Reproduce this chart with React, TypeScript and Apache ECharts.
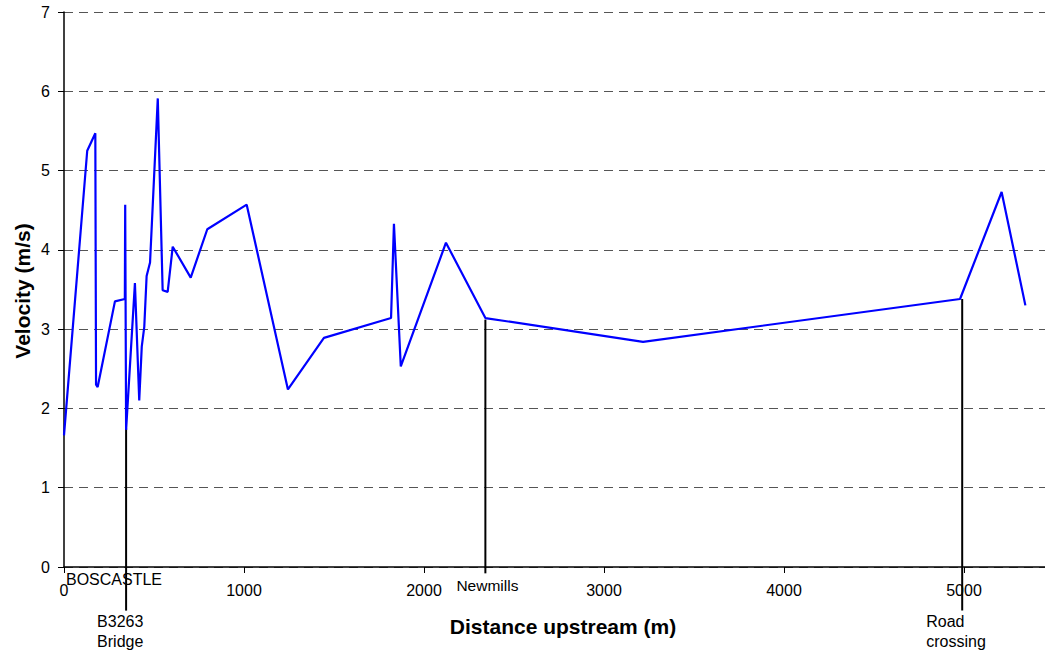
import React, { useEffect, useRef } from "react";
import * as echarts from "echarts";

const distances = [0, 129, 174, 178, 187, 283, 338, 340, 345, 394, 418, 432, 446, 459, 478, 521, 548, 576, 604, 704, 796, 1015, 1244, 1444, 1817, 1833, 1871, 2122, 2341, 3217, 4978, 5209, 5341];
const velocities = [1.66, 5.25, 5.47, 2.3, 2.27, 3.35, 3.38, 4.57, 1.73, 3.58, 2.1, 2.78, 3.03, 3.67, 3.84, 5.91, 3.49, 3.47, 4.04, 3.65, 4.26, 4.57, 2.24, 2.89, 3.14, 4.33, 2.53, 4.09, 3.14, 2.84, 3.38, 4.73, 3.3];

const markerNames = ["B3263\nBridge", "Newmills", "Road\ncrossing"];
const markerX = [345, 2341, 4990];
const markerTop = [1.75, 3.12, 3.38];
const markerBottom = [-0.55, -0.08, -0.55];

const xTicks = { min: 0, max: 6000, interval: 1000 };
const lastXLabel = 5000;
const yTicks = { min: 0, max: 7, interval: 1 };

const FONT = "'Liberation Sans', Arial, sans-serif";

export default function App() {
  const ref = useRef<HTMLDivElement>(null);
  useEffect(() => {
    document.body.style.margin = "0";
    const chart = echarts.init(ref.current!, null, { renderer: "svg" });
    const markerSeries = markerNames.map((n, i) => ({
      type: "line",
      name: n,
      data: [
        [markerX[i], markerTop[i]],
        [markerX[i], markerBottom[i]],
      ],
      clip: false,
      symbol: "none",
      lineStyle: { color: "#000", width: 2 },
      z: 1,
    }));
    chart.setOption({
      animation: false,
      textStyle: { fontFamily: FONT },
      grid: { left: 64, top: 12, width: 1080, height: 555, outerBoundsMode: "none" },
      xAxis: {
        type: "value",
        ...xTicks,
        axisLine: { onZero: false, lineStyle: { color: "#000", width: 1.5 } },
        axisTick: { show: true, length: 6, inside: false, lineStyle: { color: "#000" } },
        axisLabel: {
          color: "#000",
          fontSize: 16,
          margin: 15,
          fontFamily: FONT,
          formatter: (v: number) => (v > lastXLabel ? "" : String(v)),
        },
        splitLine: { show: false },
      },
      yAxis: {
        type: "value",
        ...yTicks,
        axisLine: { show: true, lineStyle: { color: "#000", width: 1.5 } },
        axisTick: { show: true, length: 6, inside: false, lineStyle: { color: "#000" } },
        axisLabel: { color: "#000", fontSize: 16, margin: 14, fontFamily: FONT },
        splitLine: { show: true, lineStyle: { color: "#555", type: [9, 6], width: 1.2 } },
      },
      series: [
        {
          type: "line",
          name: "Velocity",
          data: distances.map((d, i) => [d, velocities[i]]),
          symbol: "none",
          lineStyle: { color: "#0000ff", width: 2.2 },
          z: 3,
        },
        ...markerSeries,
      ],
    });

    const px = (x: number, y: number) => chart.convertToPixel({ gridIndex: 0 }, [x, y]) as number[];
    const origin = px(0, 0);
    const graphics: any[] = [
      {
        type: "text",
        x: 22,
        y: 291,
        rotation: Math.PI / 2,
        style: {
          text: "Velocity (m/s)",
          font: `bold 21px ${FONT}`,
          fill: "#000",
          align: "center",
          verticalAlign: "middle",
        },
      },
      {
        type: "text",
        x: 563,
        y: 626,
        style: {
          text: "Distance upstream (m)",
          font: `bold 21px ${FONT}`,
          fill: "#000",
          align: "center",
          verticalAlign: "middle",
        },
      },
      {
        type: "text",
        x: origin[0] + 2,
        y: origin[1] + 12,
        style: { text: "BOSCASTLE", font: `16px ${FONT}`, fill: "#000", align: "left", verticalAlign: "middle" },
      },
    ];
    markerNames.forEach((n, i) => {
      const p = px(markerX[i], markerBottom[i]);
      const isNewmills = markerBottom[i] > -0.3;
      graphics.push({
        type: "text",
        x: isNewmills ? p[0] + 2 : p[0] - (i === 0 ? 29 : 36),
        y: isNewmills ? p[1] + 2 : p[1] + 1,
        style: {
          text: n,
          font: `${isNewmills ? 15.5 : 16}px ${FONT}`,
          fill: "#000",
          align: isNewmills ? "center" : "left",
          verticalAlign: "top",
          lineHeight: 20,
        },
      });
    });
    chart.setOption({ graphic: graphics });
    return () => chart.dispose();
  }, []);
  return <div ref={ref} style={{ width: 1045, height: 654 }} />;
}
